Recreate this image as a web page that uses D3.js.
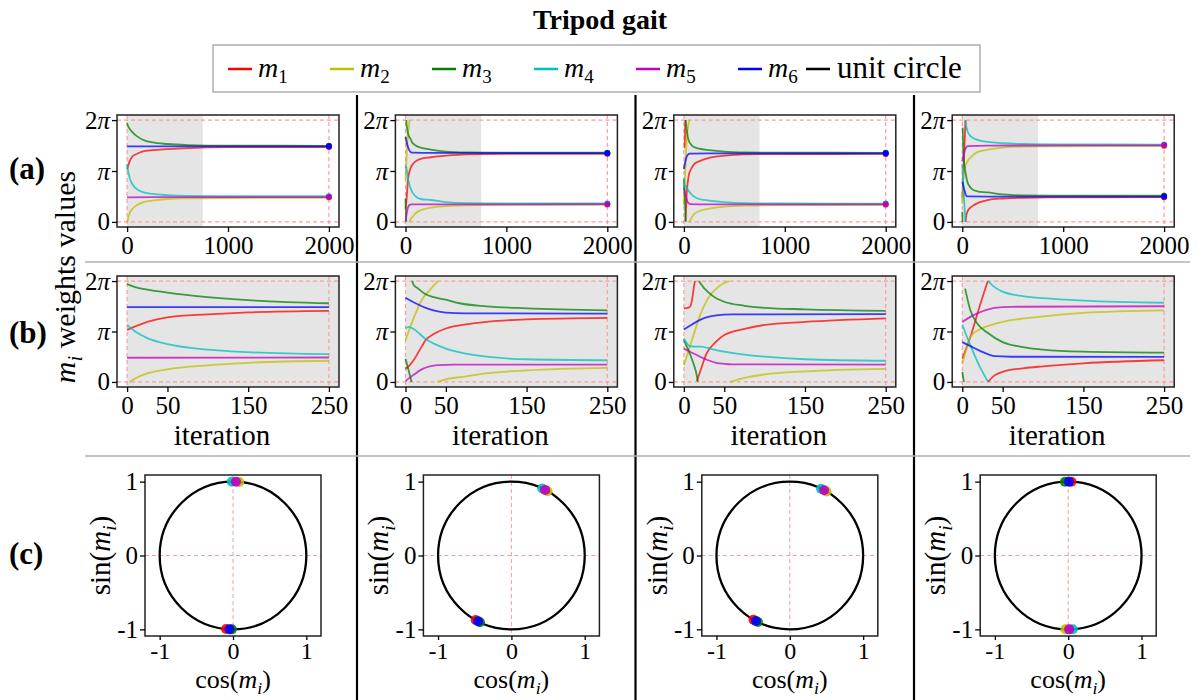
<!DOCTYPE html>
<html><head><meta charset="utf-8">
<script src="https://cdn.jsdelivr.net/npm/d3@7"></script>
<style>body{margin:0;background:#fff}svg{display:block}</style>
</head><body>
<svg id="chart" width="1202" height="700"></svg>
<script>
// ---------------- data (values in units of π; null = wrap-around break) ----------------
const seriesSubs = ["1","2","3","4","5","6"];
const seriesColors = ["#ff0000","#bfbf00","#008000","#00bfbf","#bf00bf","#0000ff"];
const phaseTickValues = [0, 1, 2];
const phaseTickLabels = ["0", "π", "2π"];
const longIterTicks = [0, 1000, 2000];
const shortIterTicks = [0, 50, 150, 250];
const unitTicks = [-1, 0, 1];
const shadedIterations = [0, 750];
const rowLabels = ["(a)", "(b)", "(c)"];

const col1Series = [
  [[0,1.03],[10,1.1],[25,1.19],[50,1.28],[100,1.34],[150,1.38],[250,1.41],[400,1.43],[600,1.45],[1000,1.468],[2000,1.47]],
  [[0,1.99],[2,2.0],null,[3,0.0],[10,0.07],[25,0.17],[50,0.25],[100,0.33],[150,0.38],[250,0.42],[400,0.45],[600,0.462],[1000,0.47],[2000,0.473]],
  [[0,1.94],[10,1.88],[25,1.83],[50,1.77],[100,1.68],[150,1.62],[250,1.56],[400,1.53],[600,1.51],[1000,1.497],[2000,1.495]],
  [[0,1.13],[10,1.0],[25,0.87],[50,0.75],[100,0.64],[150,0.59],[250,0.55],[400,0.525],[600,0.512],[1000,0.507],[2000,0.505]],
  [[0,0.48],[250,0.485],[2000,0.487]],
  [[0,1.485],[250,1.485],[2000,1.485]]
];
const col2Series = [
  [[0,0.26],[5,0.33],[10,0.43],[20,0.7],[25,0.83],[35,0.95],[50,1.06],[75,1.14],[100,1.19],[150,1.24],[250,1.27],[400,1.3],[600,1.325],[1000,1.335],[2000,1.338]],
  [[0,0.83],[10,1.26],[20,1.62],[30,1.82],[40,2.0],null,[40,0.0],[50,0.05],[75,0.11],[100,0.17],[150,0.23],[250,0.28],[400,0.31],[600,0.325],[1000,0.333],[2000,0.336]],
  [[0,0.46],[4,0.22],[7.5,0.0],null,[8.5,2.0],[9.5,1.94],[15,1.86],[25,1.74],[35,1.68],[50,1.63],[67,1.56],[100,1.5],[150,1.46],[250,1.42],[400,1.38],[600,1.365],[1000,1.36],[2000,1.359]],
  [[0,1.06],[4,1.09],[10,1.05],[25,0.85],[50,0.66],[75,0.56],[100,0.5],[150,0.45],[250,0.43],[400,0.39],[600,0.37],[1000,0.364],[2000,0.362]],
  [[0,0.02],[10,0.14],[20,0.25],[30,0.31],[40,0.335],[60,0.345],[250,0.345],[2000,0.348]],
  [[0,1.67],[10,1.58],[25,1.47],[40,1.4],[50,1.375],[75,1.36],[250,1.355],[2000,1.35]]
];
const col3Series = [
  [[0,1.46],[5,1.47],[8,1.5],[10,1.62],[13,1.94],[13.8,2.0],null,[16,0.02],[20,0.2],[28,0.56],[40,0.8],[50,0.93],[75,1.05],[100,1.13],[150,1.19],[250,1.26],[400,1.3],[600,1.325],[1000,1.333],[2000,1.335]],
  [[0,0.33],[10,0.83],[20,1.32],[30,1.66],[40,1.85],[50,1.96],[56,2.0],null,[57,0.0],[75,0.08],[100,0.15],[150,0.21],[250,0.26],[400,0.3],[600,0.32],[1000,0.33],[2000,0.333]],
  [[0,0.83],[5,0.65],[10,0.45],[15,0.2],[17.5,0.0],null,[18.5,2.0],[25,1.86],[30,1.78],[40,1.66],[50,1.59],[75,1.51],[100,1.47],[150,1.44],[250,1.41],[400,1.38],[600,1.365],[1000,1.36],[2000,1.357]],
  [[0,0.86],[4,0.76],[7,0.71],[15,0.7],[21,0.7],[35,0.65],[50,0.6],[75,0.54],[100,0.5],[150,0.45],[250,0.42],[400,0.39],[600,0.37],[1000,0.362],[2000,0.36]],
  [[0,0.66],[10,0.58],[20,0.5],[30,0.43],[40,0.38],[50,0.36],[60,0.35],[250,0.343],[2000,0.345]],
  [[0,1.04],[10,1.14],[20,1.23],[30,1.29],[40,1.32],[60,1.34],[250,1.345],[2000,1.347]]
];
const col4Series = [
  [[0,0.46],[10,0.89],[20,1.42],[30,1.92],[31.7,2.0],null,[31.7,0.0],[40,0.13],[50,0.2],[75,0.27],[100,0.31],[150,0.37],[250,0.43],[400,0.46],[600,0.475],[1000,0.482],[2000,0.486]],
  [[0,0.36],[5,0.65],[10,0.89],[20,1.03],[30,1.1],[50,1.19],[100,1.3],[150,1.37],[250,1.42],[400,1.46],[600,1.48],[1000,1.486],[2000,1.488]],
  [[0,0.2],[2,0.0],null,[3.5,1.85],[10,1.42],[20,1.13],[30,0.99],[50,0.79],[75,0.69],[100,0.64],[150,0.6],[250,0.58],[400,0.54],[600,0.52],[1000,0.515],[2000,0.514]],
  [[0,1.13],[10,0.73],[20,0.36],[32,0.0],null,[32,2.0],[40,1.88],[50,1.79],[75,1.7],[100,1.66],[150,1.61],[250,1.57],[400,1.545],[600,1.53],[1000,1.522],[2000,1.52]],
  [[0,1.19],[10,1.29],[20,1.37],[30,1.43],[40,1.47],[60,1.49],[250,1.5],[2000,1.504]],
  [[0,0.79],[10,0.71],[20,0.63],[30,0.56],[40,0.51],[60,0.5],[250,0.497],[2000,0.497]]
];
const columns = [col1Series, col2Series, col3Series, col4Series];

// ---------------- drawing ----------------
const PI = Math.PI;
const FONT = "'Liberation Serif','Times New Roman',serif";
const TICK_FS = 25, LABEL_FS = 29;
const svg = d3.select("#chart").style("font-family", FONT);

function styleAxis(a, fs){
  a.select(".domain").remove();
  a.selectAll(".tick line").attr("stroke","#000").attr("stroke-width",1.3);
  a.selectAll(".tick text").attr("fill","#000").attr("font-size",fs).attr("font-family",FONT);
}
function appendMath(t, pre, sub, subItalic, post, fs){
  if (pre) t.append("tspan").text(pre);
  t.append("tspan").attr("font-style","italic").text("m");
  t.append("tspan").attr("font-size",fs*0.68).attr("dy",fs*0.22).attr("font-style",subItalic?"italic":"normal").text(sub);
  t.append("tspan").attr("dy",-fs*0.22).text(post || "\u200A");
}

// title
svg.append("text").attr("x",600).attr("y",29).attr("text-anchor","middle")
  .attr("font-weight","bold").attr("font-size",28).text("Tripod gait");

// legend
const lg = svg.append("g");
lg.append("rect").attr("x",213).attr("y",45).attr("width",767).attr("height",47)
  .attr("fill","#fff").attr("stroke","#b0b0b0").attr("stroke-width",1.5);
seriesSubs.forEach((s,i)=>{
  const x0 = 228 + i*102;
  lg.append("line").attr("x1",x0).attr("x2",x0+24).attr("y1",69).attr("y2",69)
    .attr("stroke",seriesColors[i]).attr("stroke-width",2.5);
  const t = lg.append("text").attr("x",x0+30).attr("y",77).attr("font-size",28);
  appendMath(t, "", s, false, "", 28);
});
lg.append("line").attr("x1",806).attr("x2",830).attr("y1",69).attr("y2",69).attr("stroke","#000").attr("stroke-width",2.5);
lg.append("text").attr("x",837).attr("y",78).attr("font-size",31).text("unit circle");

// separators
[357, 635.5, 914].forEach(x=> svg.append("line").attr("x1",x).attr("x2",x).attr("y1",95).attr("y2",700)
  .attr("stroke","#000").attr("stroke-width",2.2));
[262, 456].forEach(y=> svg.append("line").attr("x1",85).attr("x2",1190).attr("y1",y).attr("y2",y)
  .attr("stroke","#b0b0b0").attr("stroke-width",1.5));

// row labels
[179, 343, 564].forEach((y,i)=> svg.append("text").attr("x",9).attr("y",y)
  .attr("font-weight","bold").attr("font-size",31).text(rowLabels[i]));

// y label of rows a/b
{
  const t = svg.append("text").attr("transform","translate(75,277) rotate(-90)")
    .attr("text-anchor","middle").attr("font-size",30);
  appendMath(t, "", "i", true, " weights values", 30);
}

function dashed(sel){ return sel.attr("stroke","#ff9a9a").attr("stroke-width",1.2).attr("stroke-dasharray","4,3"); }

function drawPhase(id, left, top, w, h, series, xDom, xEnd, xTicks, showEnd, showXLabel){
  const g = svg.append("g").attr("transform",`translate(${left},${top})`);
  const x = d3.scaleLinear().domain(xDom).range([0,w]);
  const y = d3.scaleLinear().domain([-0.1*PI, 2.1*PI]).range([h,0]);
  g.append("clipPath").attr("id",id).append("rect").attr("width",w).attr("height",h);
  const inner = g.append("g").attr("clip-path",`url(#${id})`);
  inner.append("rect").attr("x",x(shadedIterations[0])).attr("y",0)
    .attr("width",x(shadedIterations[1])-x(shadedIterations[0])).attr("height",h).attr("fill","#e5e5e5");
  [0, xEnd].forEach(v=> dashed(inner.append("line").attr("x1",x(v)).attr("x2",x(v)).attr("y1",0).attr("y2",h)));
  [0, 2*PI].forEach(v=> dashed(inner.append("line").attr("x1",0).attr("x2",w).attr("y1",y(v)).attr("y2",y(v))));
  const line = d3.line().defined(d=>d!==null).x(d=>x(d[0])).y(d=>y(d[1]*PI)).curve(d3.curveMonotoneX);
  series.forEach((s,i)=> inner.append("path").attr("d",line(s)).attr("fill","none")
    .attr("stroke",seriesColors[i]).attr("stroke-width",1.8).attr("stroke-opacity",0.75));
  if (showEnd) series.forEach((s,i)=>{ const d=s[s.length-1];
    inner.append("circle").attr("cx",x(d[0])).attr("cy",y(d[1]*PI)).attr("r",3).attr("fill",seriesColors[i]); });
  g.append("rect").attr("width",w).attr("height",h).attr("fill","none").attr("stroke","#222").attr("stroke-width",1.5);
  const ya = g.append("g").call(d3.axisLeft(y).tickValues(phaseTickValues.map(v=>v*PI)).tickSize(5).tickPadding(2).tickFormat((d,i)=>phaseTickLabels[i]));
  styleAxis(ya, TICK_FS);
  ya.selectAll(".tick text").each(function(d,i){
    const t=d3.select(this), lab=phaseTickLabels[i]; t.text("");
    if (lab.indexOf("π")>=0){ if(lab.length>1) t.append("tspan").text(lab[0]); t.append("tspan").attr("font-style","italic").text("π"); }
    else t.text(lab);
  });
  const xa = g.append("g").attr("transform",`translate(0,${h})`)
    .call(d3.axisBottom(x).tickValues(xTicks).tickSize(5).tickPadding(4).tickFormat(d=>String(d)));
  styleAxis(xa, TICK_FS);
  if (showXLabel) g.append("text").attr("x",w/2-6).attr("y",h+58).attr("text-anchor","middle").attr("font-size",LABEL_FS).text("iteration");
}

function drawUnit(id, left, top, w, h, series){
  const g = svg.append("g").attr("transform",`translate(${left},${top})`);
  const x = d3.scaleLinear().domain([-1.2,1.2]).range([0,w]);
  const y = d3.scaleLinear().domain([-1.09,1.09]).range([h,0]);
  dashed(g.append("line").attr("x1",x(0)).attr("x2",x(0)).attr("y1",0).attr("y2",h)).attr("stroke-width",1);
  dashed(g.append("line").attr("x1",0).attr("x2",w).attr("y1",y(0)).attr("y2",y(0))).attr("stroke-width",1);
  g.append("ellipse").attr("cx",x(0)).attr("cy",y(0)).attr("rx",x(1)-x(0)).attr("ry",y(0)-y(1))
    .attr("fill","none").attr("stroke","#000").attr("stroke-width",2.3);
  series.forEach((s,i)=>{ const v=s[s.length-1][1]*PI;
    g.append("circle").attr("cx",x(Math.cos(v))).attr("cy",y(Math.sin(v))).attr("r",5).attr("fill",seriesColors[i]).attr("fill-opacity",0.9); });
  g.append("rect").attr("width",w).attr("height",h).attr("fill","none").attr("stroke","#222").attr("stroke-width",1.5);
  const ya = g.append("g").call(d3.axisLeft(y).tickValues(unitTicks).tickSize(5).tickPadding(2).tickFormat(d=>String(d)));
  styleAxis(ya, TICK_FS);
  const xa = g.append("g").attr("transform",`translate(0,${h})`).call(d3.axisBottom(x).tickValues(unitTicks).tickSize(4).tickPadding(2).tickFormat(d=>String(d)));
  styleAxis(xa, 24);
  const tx = g.append("text").attr("x",w/2).attr("y",h+52).attr("text-anchor","middle").attr("font-size",26);
  appendMath(tx, "cos(", "i", true, ")", 26);
  const ty = g.append("text").attr("transform",`translate(-35,${h/2}) rotate(-90)`).attr("text-anchor","middle").attr("font-size",LABEL_FS);
  appendMath(ty, "sin(", "i", true, ")", LABEL_FS);
}

columns.forEach((series, ci)=>{
  const left = 117 + ci*278.4;
  drawPhase("ca"+ci, left, 115, 222, 112, series, [-100,2100], 2000, longIterTicks, true, false);
  const shortSeries = series.map(s=> s.filter(d=> d===null || d[0] <= 250));
  drawPhase("cb"+ci, left, 276, 222, 111, shortSeries, [-12.5,262.5], 250, shortIterTicks, false, true);
  drawUnit("cc"+ci, left+28, 475, 176, 161, series);
});
</script>
</body></html>
